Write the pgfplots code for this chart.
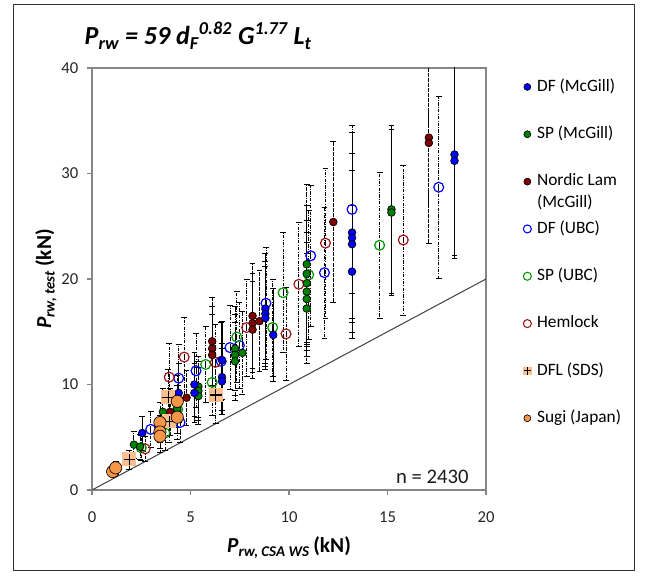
\documentclass[border=0pt]{standalone}
\usepackage{fontspec}
\setmainfont{Carlito}
\usepackage{pgfplots}
\pgfplotsset{compat=1.18}
\definecolor{dfblue}{RGB}{0,0,255}
\definecolor{spgreen}{RGB}{0,128,0}
\definecolor{nordic}{RGB}{128,0,0}
\definecolor{ubcgreen}{RGB}{0,150,0}
\definecolor{hem}{RGB}{160,20,20}
\definecolor{dflpeach}{RGB}{250,192,144}
\definecolor{sugi}{RGB}{247,150,70}
\definecolor{axgray}{RGB}{134,134,134}
\pgfdeclareplotmark{sqplus}{%
  \pgfpathrectangle{\pgfqpoint{-\pgfplotmarksize}{-\pgfplotmarksize}}{\pgfqpoint{2\pgfplotmarksize}{2\pgfplotmarksize}}%
  \pgfusepathqfill
  \pgfpathmoveto{\pgfqpoint{-0.85\pgfplotmarksize}{0pt}}\pgfpathlineto{\pgfqpoint{0.85\pgfplotmarksize}{0pt}}%
  \pgfpathmoveto{\pgfqpoint{0pt}{-0.85\pgfplotmarksize}}\pgfpathlineto{\pgfqpoint{0pt}{0.85\pgfplotmarksize}}%
  \pgfusepathqstroke}
\pgfplotsset{
  ebsolid/.style={error bars/.cd, y dir=both, y explicit, error mark=-,
    error bar style={black, line width=0.8pt, solid},
    error mark options={rotate=90, black, line width=0.6pt, mark size=2.2pt, solid}},
  ebdashed/.style={error bars/.cd, y dir=both, y explicit, error mark=-,
    error bar style={black, line width=0.8pt, dash pattern=on 3pt off 0.8pt},
    error mark options={rotate=90, black, line width=0.6pt, mark size=2.2pt, solid}},
  ebdensedd/.style={error bars/.cd, y dir=both, y explicit, error mark=-,
    error bar style={black, line width=0.7pt, dash pattern=on 2.5pt off 0.7pt on 0.7pt off 0.7pt},
    error mark options={rotate=90, black, line width=0.6pt, mark size=2.2pt, solid}},
  ebdd/.style={error bars/.cd, y dir=both, y explicit, error mark=-,
    error bar style={black, line width=0.55pt, dash pattern=on 2.5pt off 1pt on 0.6pt off 1pt},
    error mark options={rotate=90, black, line width=0.55pt, mark size=2.2pt, solid}},
}
\begin{document}
\begin{tikzpicture}
\useasboundingbox (0,0) rectangle (485.25pt,434.25pt);
\draw[line width=0.75pt, black!80] (10.125pt,6.375pt) rectangle (475.875pt,430.875pt);
\begin{axis}[
  at={(69pt,66.75pt)}, anchor=south west,
  scale only axis, width=295.5pt, height=316.5pt,
  xmin=0, xmax=20, ymin=0, ymax=40,
  xtick={0,5,10,15,20}, ytick={0,10,20,30,40},
  xtick pos=left, ytick pos=left, tick align=outside,
  major tick length=3.75pt,
  axis line style={axgray, line width=1pt},
  every tick/.style={axgray, line width=1pt},
  /pgf/number format/assume math mode=true,
  ticklabel style={font=\fontsize{12.5}{14}\selectfont, text=black!85},
  xticklabel style={yshift=-9pt},
  yticklabel style={xshift=-3pt},
  xlabel={\textbf{\textit{P}\textsubscript{\textit{rw, CSA WS}}\,(kN)}},
  ylabel={\textbf{\textit{P}\textsubscript{\textit{rw, test}}\,(kN)}},
  xlabel style={at={(axis description cs:0.5,0)}, anchor=base, yshift=-47pt, font=\fontsize{16}{19}\selectfont},
  ylabel style={at={(axis description cs:0,0.5)}, anchor=center, xshift=0pt, yshift=34.5pt, font=\fontsize{16}{19}\selectfont},
  legend style={draw=none, fill=none, at={(axis description cs:1.083,0.985)}, anchor=north west,
    font=\fontsize{13}{16.5}\selectfont, row sep=21pt,
    /tikz/every odd column/.append style={column sep=3pt},
    nodes={inner sep=1pt, text height=9.5pt, text depth=3pt}},
  legend cell align=left,
]
\addplot[forget plot, no marks, black!75, line width=0.75pt] coordinates {(0,0) (20,20)};

% DF (UBC) open blue
\addplot[forget plot, only marks, mark=o, mark size=3.7pt, mark options={dfblue, line width=0.9pt, solid}, ebdd]
table[x=x, y=y, y error=e] {
x y e
2.98 5.75 1.7
4.47 6.4 1.9
4.4 10.6 3.2
5.28 11.3 3.5
6.56 12.2 3.7
7.0 13.5 4.0
7.48 13.7 4.1
8.83 17.7 5.3
11.1 22.2 6.7
11.8 20.6 6.2
13.2 26.6 8.0
17.6 28.7 8.6
};
% SP (UBC) open green
\addplot[forget plot, only marks, mark=o, mark size=3.7pt, mark options={ubcgreen, line width=0.9pt, solid}, ebdd]
table[x=x, y=y, y error=e] {
x y e
2.5 4.0 1.2
3.7 5.4 1.6
4.35 7.65 2.3
5.77 11.9 3.6
6.1 10.2 3.1
7.35 14.5 4.3
9.17 15.4 4.6
9.7 18.7 5.7
11.0 20.4 6.1
14.6 23.2 6.9
};
% Hemlock open dark red
\addplot[forget plot, only marks, mark=o, mark size=3.7pt, mark options={hem, line width=0.9pt, solid}, ebdd]
table[x=x, y=y, y error=e] {
x y e
2.7 3.9 1.2
3.92 10.7 3.2
4.68 12.6 3.8
6.26 12.1 3.6
7.85 15.4 4.6
9.85 14.8 4.4
10.5 19.5 5.9
11.85 23.4 7.1
15.8 23.7 7.1
};
% SP (McGill) filled green
\addplot[forget plot, only marks, mark=*, mark size=2.9pt, mark options={draw=black, fill=spgreen, line width=0.5pt, solid}, ebdensedd]
table[x=x, y=y, y error=e] {
x y e
2.13 4.3 1.3
2.44 4.1 1.2
3.6 7.4 2.2
4.33 7.65 2.3
5.4 9.8 2.9
5.4 9.4 2.8
5.4 8.9 2.7
7.26 13.4 4.0
7.26 12.8 3.8
7.26 12.2 3.7
7.63 13.0 3.9
10.9 21.4 7.6
10.9 20.5 6.5
10.9 19.6 6.0
10.9 18.8 5.6
10.9 18.1 5.4
10.9 17.2 5.2
15.2 26.6 8.0
15.2 26.3 7.9
};
% Nordic Lam filled dark red
\addplot[forget plot, only marks, mark=*, mark size=2.9pt, mark options={draw=black, fill=nordic, line width=0.5pt, solid}, ebdashed]
table[x=x, y=y, y error=e] {
x y e
3.96 7.4 2.2
4.8 8.75 2.6
6.1 14.1 4.2
6.1 13.4 4.0
6.1 12.8 3.8
8.15 16.5 5.0
8.15 15.8 4.7
8.15 15.2 4.6
8.5 16.0 4.8
12.25 25.4 7.6
17.1 33.4 10.0
17.1 32.9 9.5
};
% DF (McGill) filled blue
\addplot[forget plot, only marks, mark=*, mark size=2.9pt, mark options={draw=black, fill=dfblue, line width=0.5pt, solid}, ebsolid]
table[x=x, y=y, y error=e] {
x y e
2.55 5.4 1.6
4.4 9.2 2.8
5.2 10.0 3.0
5.2 9.2 2.8
6.6 12.3 3.7
6.6 10.7 3.2
6.6 10.3 3.1
8.8 17.2 5.2
8.8 16.7 5.0
8.8 16.3 4.9
9.2 14.7 4.4
13.2 24.4 9.5
13.2 23.9 8.0
13.2 23.3 7.0
13.2 20.7 6.3
18.4 31.8 9.6
18.4 31.2 9.2
};
% DFL (SDS)
\addplot[forget plot, only marks, mark=sqplus, mark size=5.2pt, mark options={fill=dflpeach, draw=black, line width=0.9pt, solid}, ebdd]
table[x=x, y=y, y error=e] {
x y e
1.9 2.9 0.9
3.87 8.8 2.6
3.92 6.5 2.0
6.28 9.0 2.7
};
% Sugi (Japan)
\addplot[forget plot, only marks, mark=*, mark size=4.6pt, mark options={draw=black, fill=sugi, line width=0.5pt, solid}, ebdd]
table[x=x, y=y, y error=e] {
x y e
1.05 1.75 0.5
1.2 2.1 0.6
3.45 6.4 1.9
3.45 5.5 1.6
3.45 5.1 1.5
4.33 8.4 2.5
4.33 6.9 2.1
};

\node[anchor=base east, font=\fontsize{15.5}{18}\selectfont, text=black!90] at (axis cs:19.35,0.66) {n = 2430};

\addlegendimage{only marks, mark=*, mark size=2.6pt, mark options={draw=black, fill=dfblue, line width=0.5pt}}
\addlegendentry{DF (McGill)}
\addlegendimage{only marks, mark=*, mark size=2.6pt, mark options={draw=black, fill=spgreen, line width=0.5pt}}
\addlegendentry{SP (McGill)}
\addlegendimage{only marks, mark=*, mark size=2.6pt, mark options={draw=black, fill=nordic, line width=0.5pt}}
\addlegendentry{\smash{\begin{tabular}[t]{@{}l@{}}Nordic Lam\\(McGill)\end{tabular}}}
\addlegendimage{only marks, mark=o, mark size=3pt, mark options={dfblue, line width=0.8pt}}
\addlegendentry{DF (UBC)}
\addlegendimage{only marks, mark=o, mark size=3pt, mark options={ubcgreen, line width=0.8pt}}
\addlegendentry{SP (UBC)}
\addlegendimage{only marks, mark=o, mark size=3pt, mark options={hem, line width=0.8pt}}
\addlegendentry{Hemlock}
\addlegendimage{only marks, mark=sqplus, mark size=3.3pt, mark options={fill=dflpeach, draw=black, line width=0.8pt}}
\addlegendentry{DFL (SDS)}
\addlegendimage{only marks, mark=*, mark size=2.6pt, mark options={draw=black, fill=sugi, line width=0.5pt}}
\addlegendentry{Sugi (Japan)}
\end{axis}
\node[anchor=base west, font=\fontsize{19.5}{24}\selectfont\bfseries\itshape] at (60pt,400.5pt)
  {P\textsubscript{rw} = 59 d\textsubscript{F}\textsuperscript{0.82} G\textsuperscript{1.77} L\textsubscript{t}};
\end{tikzpicture}
\end{document}
